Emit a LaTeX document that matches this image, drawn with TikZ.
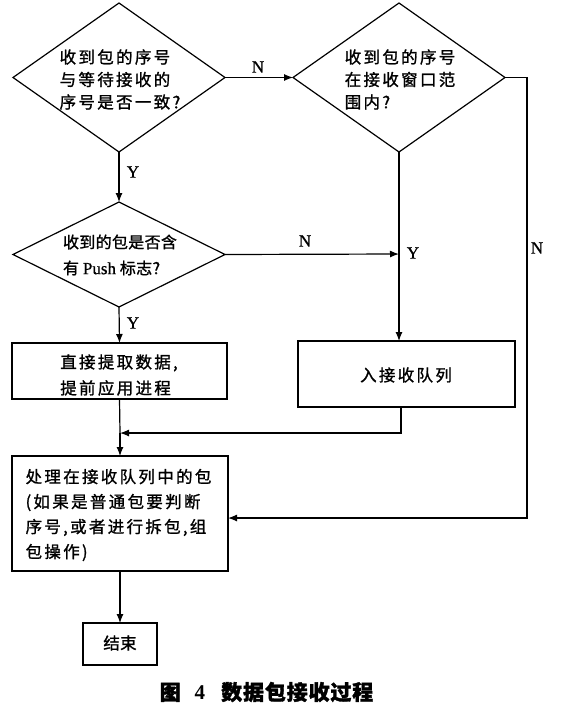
\documentclass[tikz,border=0pt]{standalone}
\usepackage{fontspec}
\setmainfont{Liberation Serif}
\newfontfamily\cjk[LetterSpace=14,FakeBold=1.2]{Noto Sans CJK SC}
\newfontfamily\cjknarrow[LetterSpace=2,FakeBold=1.2]{Noto Sans CJK SC}
\newfontfamily\cjkcap[LetterSpace=4,FakeBold=1.6]{Noto Sans CJK SC}
\newfontfamily\ynfont[FakeBold=0.8]{Liberation Serif}
\usetikzlibrary{shapes.geometric,arrows.meta}

\begin{document}
\begin{tikzpicture}[x=1pt,y=-1pt,line width=1.2pt,>={Latex[length=9pt,width=7pt]},
    every node/.style={inner sep=0pt, outer sep=0pt},
    dec/.style={draw,diamond,minimum width=212pt,minimum height=149pt},
    box/.style={draw,rectangle},
    txt/.style={align=left,font=\cjk\fontsize{16.5}{22.5}\selectfont},
    yn/.style={font=\ynfont\fontsize{17}{17}\selectfont}]
    \useasboundingbox (0,0) rectangle (565,721);
    % decisions
    \node[dec] (recv) at (119,77.5) {};
    \node[txt] (recvtxt) at (120,79.5) {收到包的序号\\与等待接收的\\序号是否一致?};
    \node[dec] (win) at (399,77.5) {};
    \node[txt] (wintxt) at (400,79.5) {收到包的序号\\在接收窗口范\\围内?};
    \node[dec,minimum height=105pt] (push) at (119,254.5) {};
    \node[txt,font=\cjknarrow\fontsize{16}{26}\selectfont] (pushtxt) at (120,255)
        {收到的包是否含\\有 {\ynfont\fontsize{17}{17}\selectfont Push} 标志?};
    % boxes
    \node[box,minimum width=215pt,minimum height=56pt] (fetch) at (119.5,371) {};
    \node[txt,font=\cjk\fontsize{16.5}{26}\selectfont] (fetchtxt) at (119,375) {直接提取数据,\\提前应用进程};
    \node[box,minimum width=217pt,minimum height=66pt] (queue) at (406.5,374) {};
    \node[txt] (queuetxt) at (406,375) {入接收队列};
    \node[box,minimum width=216pt,minimum height=115pt] (proc) at (120,513.5) {};
    \node[txt,font=\cjk\fontsize{16.5}{25}\selectfont] (proctxt) at (118.5,515)
        {处理在接收队列中的包\\(如果是普通包要判断\\序号,或者进行拆包,组\\包操作)};
    \node[box,minimum width=74pt,minimum height=42pt] (stop) at (120,644) {};
    \node[txt,font=\cjknarrow\fontsize{16.5}{16.5}\selectfont] (stoptxt) at (120,643) {结束};
    % free ends
    \coordinate (join) at (399,254);
    \coordinate (merge) at (120,433);
    \coordinate (loop) at (527,518);
    % connectors
    \draw[->] (recv.east) -- (win.west);
    \draw[->] (recv.south) -- (push.north);
    \draw[->] (push.south) -- (fetch.north);
    \draw[->] (push.east) -- (join);
    \draw[->] (win.south) -- (win.south |- queue.north);
    \draw[->] (queue.south -| 401,0) |- (merge);
    \draw (fetch.south) -- (merge);
    \draw[->] (merge) -- (proc.north);
    \draw[->] (win.east) -| (loop) -- (loop -| proc.east);
    \draw[->] (proc.south) -- (stop.north);
    % labels
    \node[yn] (n1) at (258,67) {N};
    \node[yn] (y1) at (133,172) {Y};
    \node[yn] (n2) at (305,241) {N};
    \node[yn] (y2) at (413,253) {Y};
    \node[yn] (n3) at (537,248) {N};
    \node[yn] (y3) at (133,323) {Y};
    % caption
    \node[font=\fontsize{21}{21}\selectfont\bfseries] (cap) at (266.5,692)
        {{\cjkcap 图}\hspace{14pt}4\hspace{16pt}{\cjkcap 数据包接收过程}};
\end{tikzpicture}
\end{document}
